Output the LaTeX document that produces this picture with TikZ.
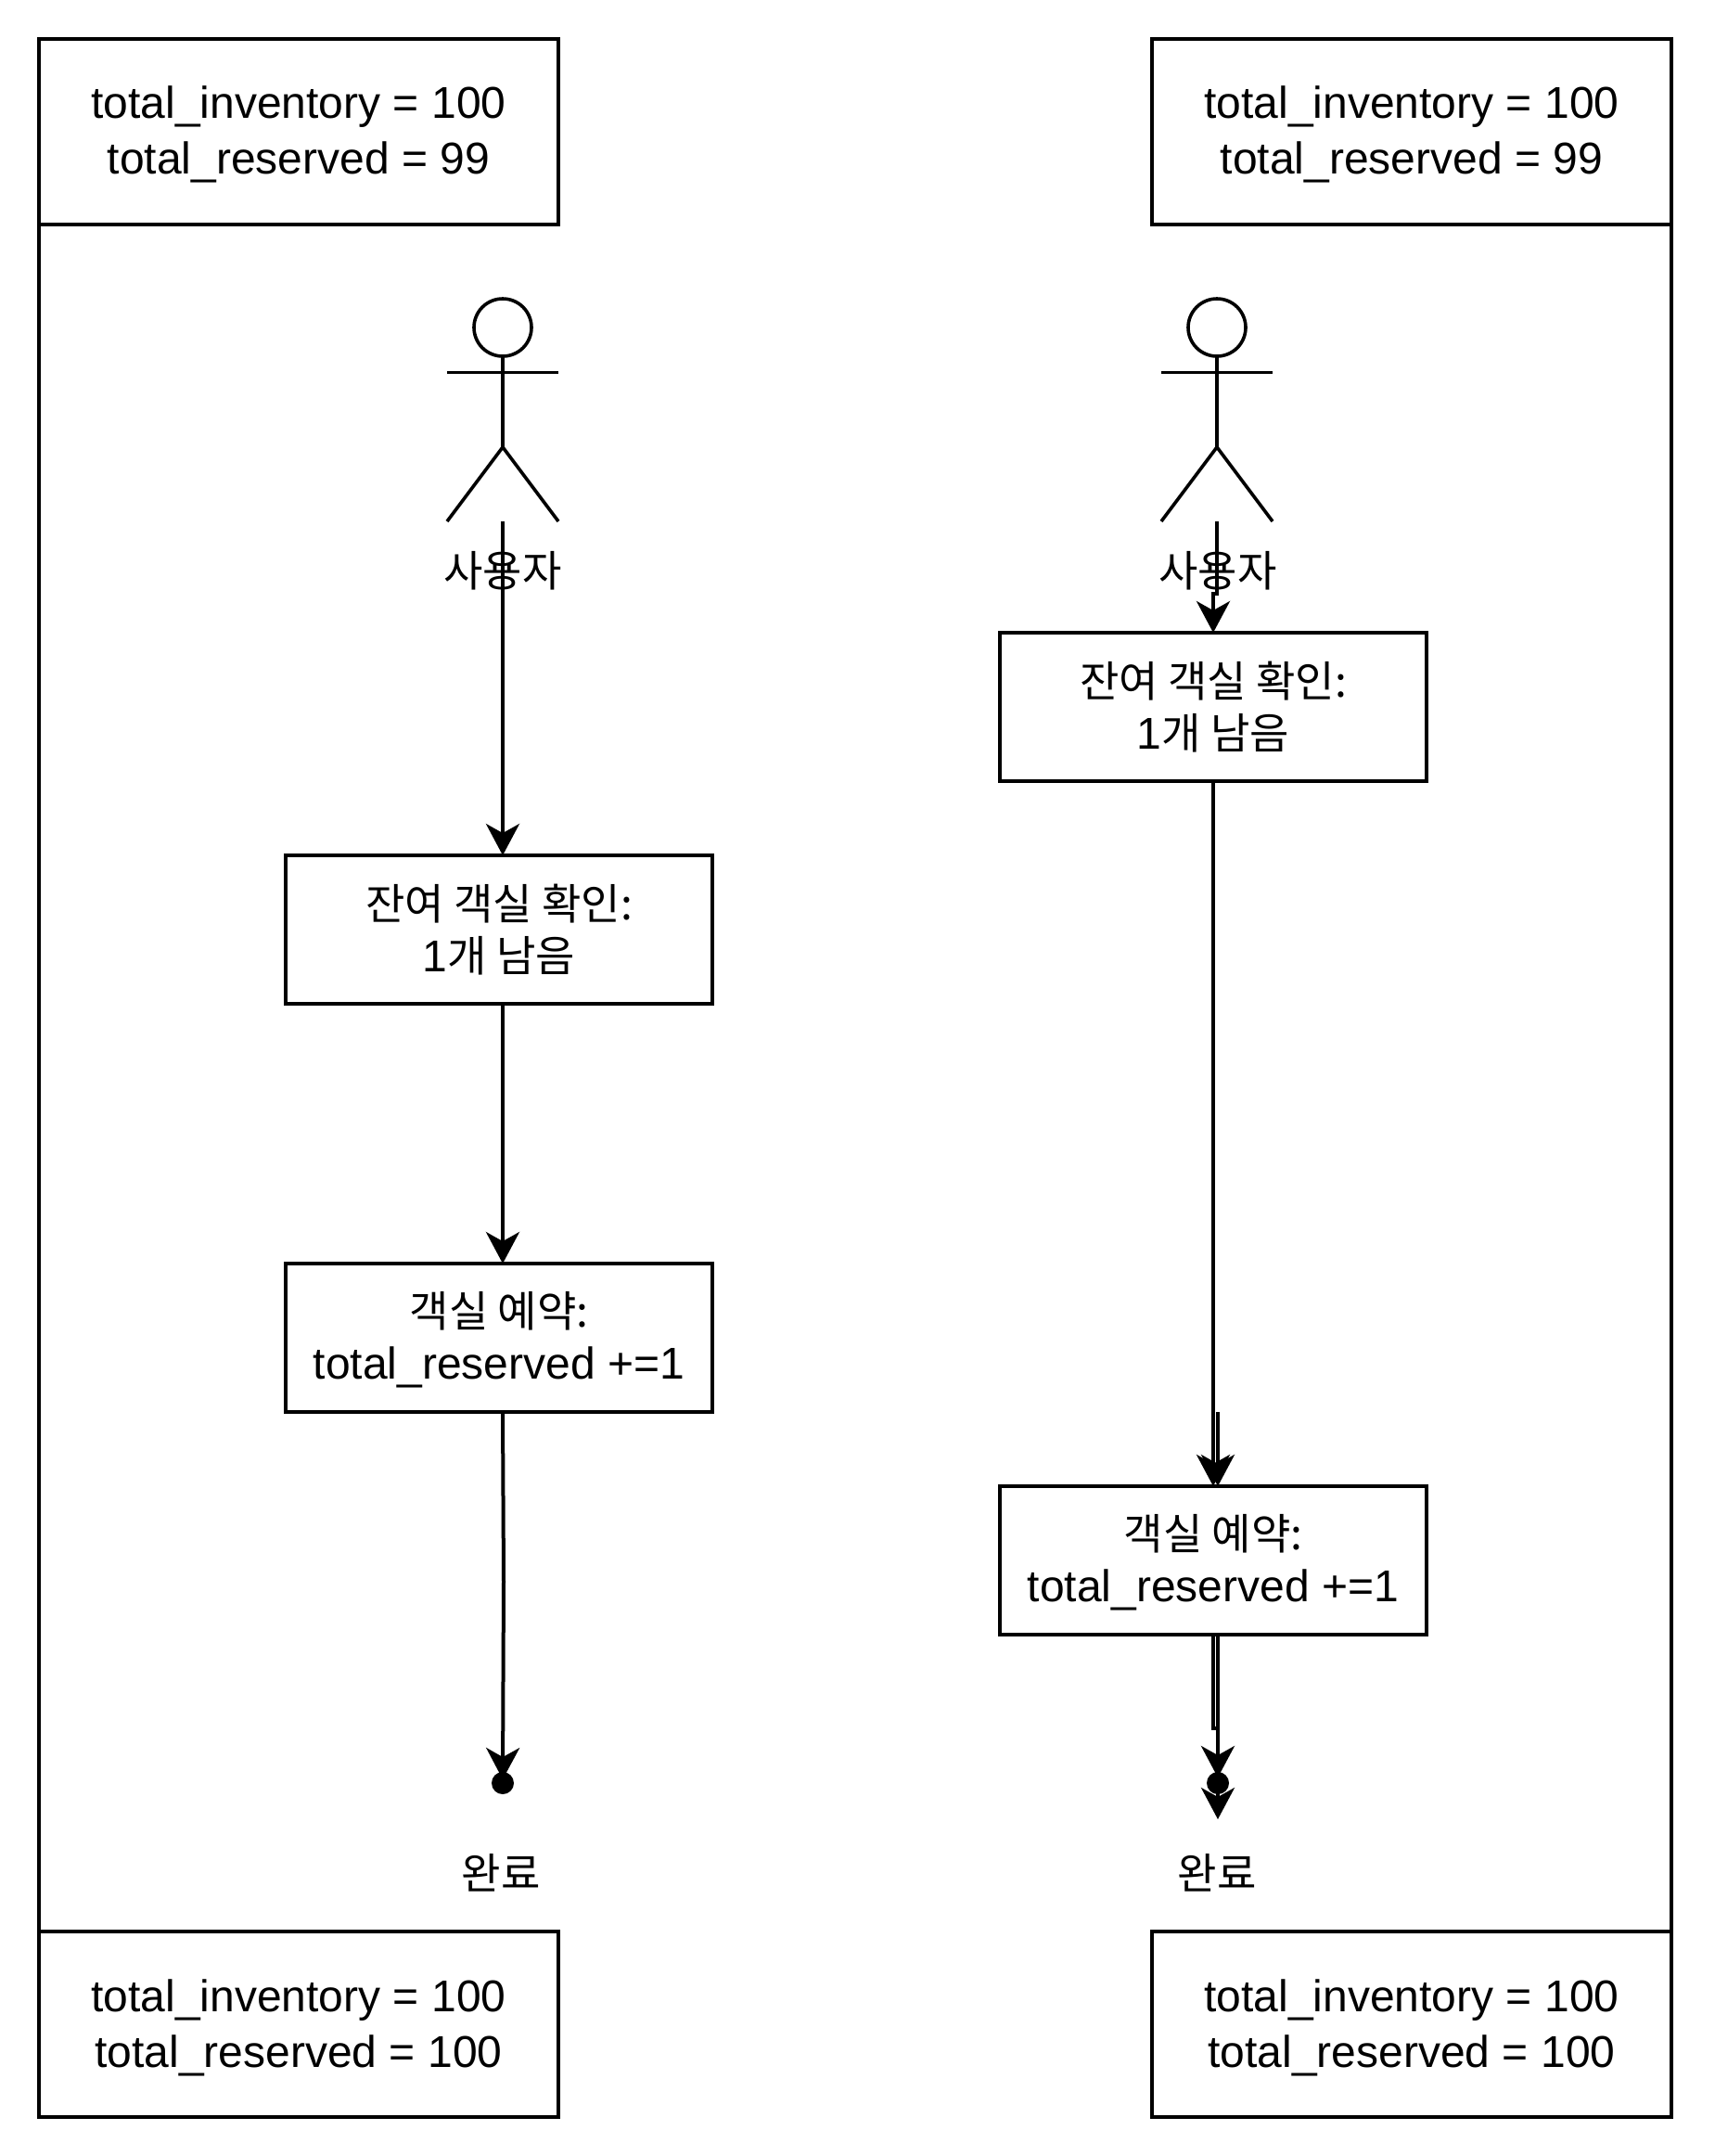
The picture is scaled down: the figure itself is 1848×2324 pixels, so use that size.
\documentclass[tikz,border=0pt]{standalone}
\usepackage{fontspec}
\setmainfont{Liberation Sans}
\newfontfamily\cjk[Scale=0.96]{Noto Sans CJK KR}
\usetikzlibrary{arrows.meta}
\newcommand{\vallines}[2]{\rule{0pt}{21pt}#1\\#2}
\newcommand{\steplines}[2]{\rule{0pt}{21.5pt}#1\\\rule[-4.5pt]{0pt}{4.5pt}#2}
\tikzset{
  >={Stealth[length=17pt,width=18pt,inset=5pt]},
  txt/.style={align=center,font=\fontsize{24pt}{30pt}\selectfont},
  valbox/.style={txt,draw,outer sep=0pt,inner sep=0pt,minimum width=280pt,minimum height=100pt},
  stepbox/.style={align=center,font=\fontsize{24pt}{28pt}\selectfont,
    draw,outer sep=0pt,inner sep=0pt,minimum width=230pt,minimum height=80pt,
    execute at begin node={\lineskiplimit=-10pt\relax}},
  donedot/.style={circle,fill,inner sep=0pt,minimum size=12pt},
  limb/.style={line width=1.8pt},
  headnode/.style={draw,limb,circle,inner sep=0pt,outer sep=0pt,minimum size=31pt}
}
\begin{document}
\begin{tikzpicture}[x=0.5pt,y=-0.5pt,line width=2pt]
    \useasboundingbox (0,0) rectangle (1848,2324);
    % value boxes
    \node[valbox] (topL) at (322,141.5) {\vallines{total\_inventory = 100}{total\_reserved = 99}};
    \node[valbox] (botL) at (322,2182) {\vallines{total\_inventory = 100}{total\_reserved = 100}};
    \node[valbox] (topR) at (1522,141.5) {\vallines{total\_inventory = 100}{total\_reserved = 99}};
    \node[valbox] (botR) at (1522,2182) {\vallines{total\_inventory = 100}{total\_reserved = 100}};
    \draw (topL.south west) -- (botL.north west);
    \draw (topR.south east) -- (botR.north east);
    % left side
    \node[headnode] (headL) at (542,353) {};
    \coordinate (hipL) at (542,482);
    \coordinate (footL) at (542,562);
    \draw[limb] (headL.south) -- (hipL);
    \draw[limb] (482,401.5) -- (602,401.5);
    \draw[limb] (482,562) -- (hipL) -- (602,562);
    \node[txt] (userL) at (542,615) {\cjk 사용자};
    \node[stepbox] (checkL) at (538,1002) {\steplines{\cjk 잔여 객실 확인:}{1{\cjk 개 남음}}};
    \node[stepbox] (bookL) at (538,1442) {\steplines{\cjk 객실 예약:}{total\_reserved +=1}};
    \node[txt] (doneL) at (540,2019) {\cjk 완료};
    \coordinate (bendL) at (543,1705);
    \coordinate (endL) at (542,1918);
    \draw[->] (footL) -- (footL |- checkL.north);
    \draw[->] (footL |- checkL.south) -- (footL |- bookL.north);
    \draw[->] (footL |- bookL.south) -- (bendL) -- (endL);
    \node[donedot] (dotL) at (542,1922) {};
    % right side
    \node[headnode] (headR) at (1312,353) {};
    \coordinate (hipR) at (1312,482);
    \coordinate (footR) at (1312,562);
    \draw[limb] (headR.south) -- (hipR);
    \draw[limb] (1252,401.5) -- (1372,401.5);
    \draw[limb] (1252,562) -- (hipR) -- (1372,562);
    \node[txt] (userR) at (1313,615) {\cjk 사용자};
    \node[stepbox] (checkR) at (1308,762) {\steplines{\cjk 잔여 객실 확인:}{1{\cjk 개 남음}}};
    \node[stepbox] (bookR) at (1308,1682) {\steplines{\cjk 객실 예약:}{total\_reserved +=1}};
    \node[txt] (doneR) at (1312,2019) {\cjk 완료};
    \coordinate (jogR) at (1312,640);
    \coordinate (lateR) at (1313,1522);
    \coordinate (splitR) at (1308,1863);
    \coordinate (endR) at (1313,1916);
    \coordinate (overR) at (1313,1961);
    \draw[->] (footR) -- (jogR) -- (jogR -| checkR.north) -- (checkR.north);
    \draw[->] (checkR.south) -- (bookR.north);
    \draw[->] (lateR) -- (lateR |- bookR.north);
    \draw[->] (lateR |- bookR.south) -- (endR);
    \draw[->] (bookR.south) -- (splitR) -- (splitR -| overR) -- (overR);
    \node[donedot] (dotR) at (1313,1922) {};
\end{tikzpicture}
\end{document}
